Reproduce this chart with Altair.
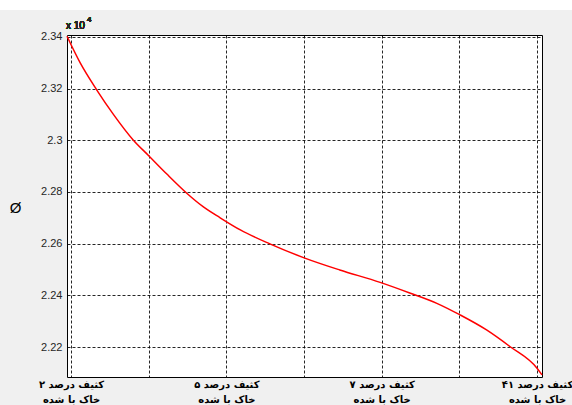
import altair as alt
import pandas as pd

# Curve samples: position along the x axis and Ø value
x_pos = [0.948, 1.12, 1.33, 1.55, 1.80, 2.00, 2.23, 2.49, 2.70, 2.92, 3.18,
         3.56, 4.01, 4.46, 4.98, 5.37, 5.71, 6.01, 6.35, 6.65, 7.00, 7.064]
phi = [23402, 23298, 23195, 23098, 23001, 22940, 22870, 22795, 22743, 22700,
       22653, 22599, 22544, 22498, 22450, 22408, 22369, 22324, 22266, 22202,
       22118, 22092]

# Axis ticks and category labels (two lines each); word order is given so
# that the number sits at the left end of the first line
x_ticks = [1, 2, 3, 4, 5, 6, 7]
x_label_at = [1, 3, 5, 7]
x_label_line1 = ["کثیف درصد ۲", "کثیف درصد ۵", "کثیف درصد ۷", "کثیف درصد ۴۱"]
x_label_line2 = ["خاک با شده", "خاک با شده", "خاک با شده", "خاک با شده"]
y_ticks = [22200, 22400, 22600, 22800, 23000, 23200, 23400]
exponent_base = "x 10"
exponent_power = "4"

df = pd.DataFrame({"x": x_pos, "phi": phi})

label_expr = ""
for v, a, b in zip(x_label_at, x_label_line1, x_label_line2):
    label_expr += f"datum.value == {v} ? ['{a}', '{b}'] : "
label_expr += "''"

x_enc = alt.X(
    "x:Q",
    scale=alt.Scale(domain=[0.948, 7.064], nice=False, zero=False),
    axis=alt.Axis(
        values=x_ticks, labelExpr=label_expr, title=None, ticks=False,
        domain=False, grid=True, labelFont="DejaVu Sans", labelFontWeight="bold",
        labelFontSize=10, labelColor="#000000", labelLineHeight=15,
        labelPadding=2, labelBaseline="top", labelFlush=False,
    ),
)
y_enc = alt.Y(
    "phi:Q",
    scale=alt.Scale(domain=[22084, 23407], nice=False, zero=False),
    axis=alt.Axis(
        values=y_ticks, labelExpr="format(datum.value / 10000, '.2~f')",
        title="Ø", titleAngle=0, titleX=-52, titleY=172, titleAlign="center",
        titleBaseline="middle", titleFontSize=15, titleFontWeight="normal",
        titleFont="Liberation Sans", titleColor="#000000",
        ticks=False, domain=False, grid=True, labelFont="Liberation Sans",
        labelFontSize=11, labelColor="#262626", labelPadding=5,
    ),
)

curve = alt.Chart(df).mark_line(
    color="#ff0000", strokeWidth=1.5, interpolate="monotone"
).encode(x=x_enc, y=y_enc)

# White strip along the top of the figure window
band = alt.Chart(df).mark_rect(color="#ffffff").encode(
    x=alt.value(-67), x2=alt.value(505), y=alt.value(-35), y2=alt.value(-25)
)

# Common scale factor shown above the y axis: "x 10" with a raised exponent
exp_base = alt.Chart(df).mark_text(
    align="left", baseline="alphabetic", fontSize=10, font="Liberation Sans",
    color="#262626"
).encode(x=alt.value(-1), y=alt.value(-6), text=alt.value(exponent_base))

exp_power = alt.Chart(df).mark_text(
    align="left", baseline="alphabetic", fontSize=8, font="Liberation Sans",
    color="#262626"
).encode(x=alt.value(20), y=alt.value(-13), text=alt.value(exponent_power))

chart = alt.layer(band, curve, exp_base, exp_power).properties(
    width=475,
    height=342,
    autosize=alt.AutoSizeParams(type="none"),
    padding={"left": 67, "top": 35, "right": 30, "bottom": 28},
    background="#f0f0f0",
).configure_view(
    fill="#ffffff", stroke="#000000", strokeWidth=1
).configure_axis(
    gridColor="#000000", gridDash=[3, 2], gridWidth=1, gridOpacity=0.85
)

chart.save("out.html", embed_options={"renderer": "svg", "actions": False})
